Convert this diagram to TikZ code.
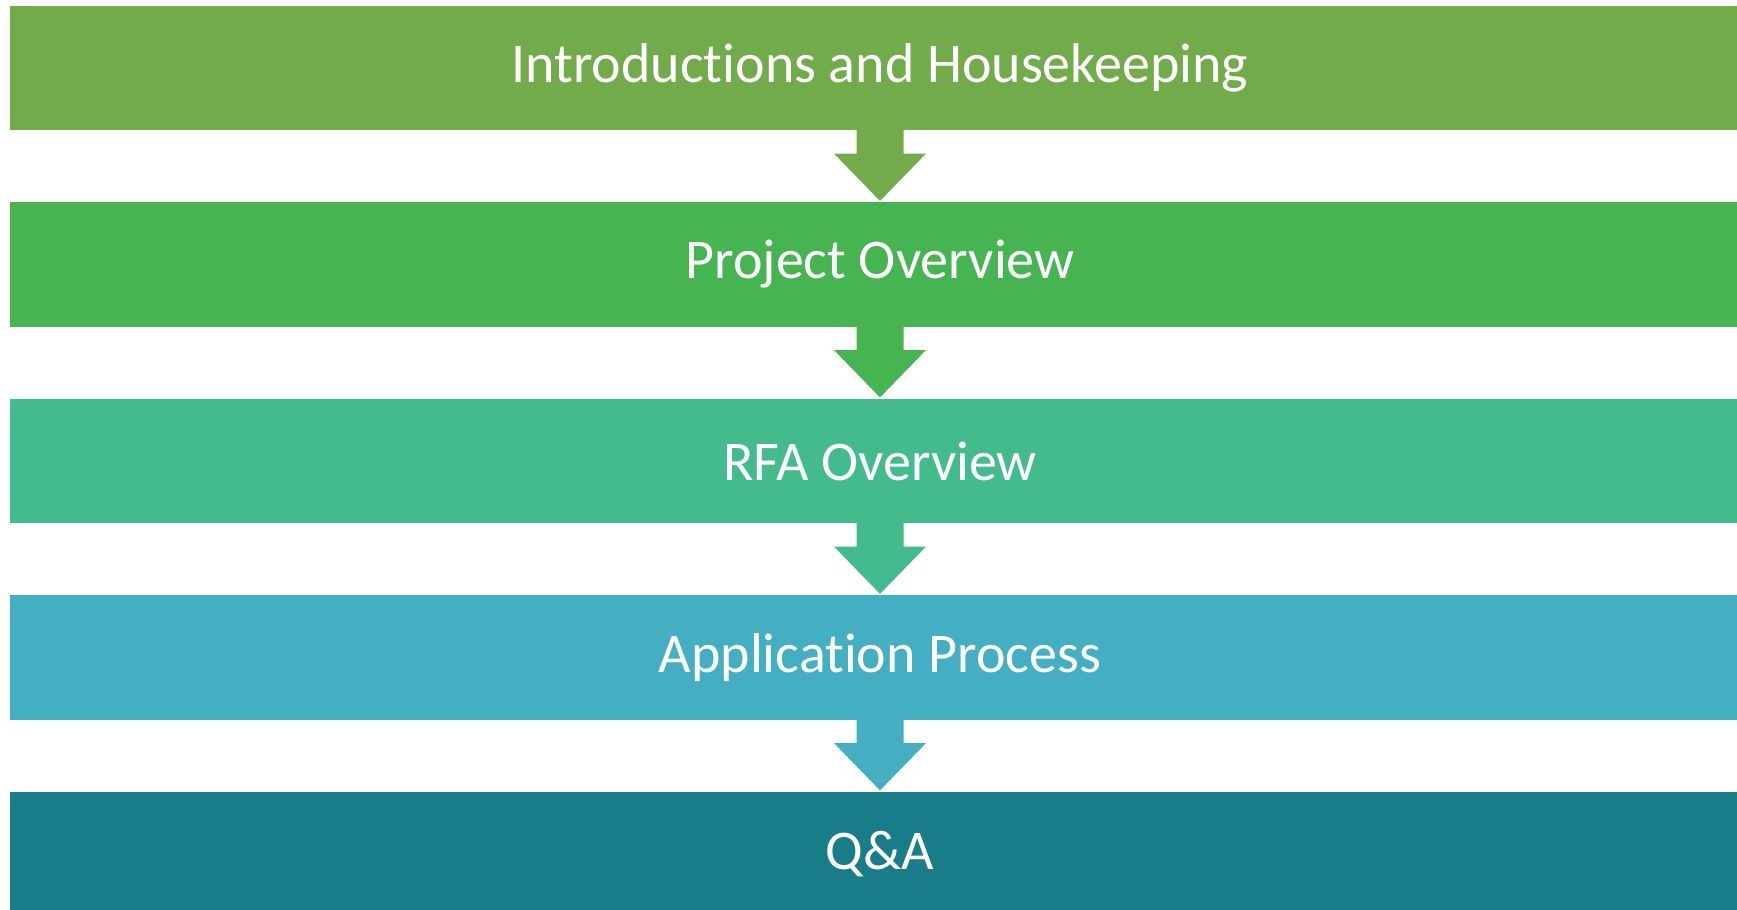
\documentclass[tikz,border=0pt]{standalone}
\usepackage{fontspec}
\setmainfont{Carlito}[Ligatures=NoCommon]
\usetikzlibrary{positioning,calc}
\definecolor{introgreen}{RGB}{114,172,74}
\definecolor{projgreen}{RGB}{71,180,82}
\definecolor{rfagreen}{RGB}{68,187,140}
\definecolor{appblue}{RGB}{68,175,194}
\definecolor{qateal}{RGB}{24,124,137}
\tikzset{
    bar/.style={minimum width=871pt, minimum height=63pt, inner sep=0pt,
        text=white, draw=white, line width=0.6pt,
        font=\fontsize{28}{34}\selectfont},
}
% arrow from bar #1 to bar #2, colour #3
\newcommand{\downarrowbar}[3]{%
    \fill[#3] ($(#1.south)+(-11.75pt,0.8pt)$) -- ($(#1.south)+(-11.75pt,-11pt)$)
        -- ($(#1.south)+(-23pt,-11pt)$) -- (#2.north)
        -- ($(#1.south)+(23pt,-11pt)$) -- ($(#1.south)+(11.75pt,-11pt)$)
        -- ($(#1.south)+(11.75pt,0.8pt)$) -- cycle;}
\begin{document}
\begin{tikzpicture}[node distance=34.65pt]
    \useasboundingbox (0,0) rectangle (868.5pt,-455pt);
        \node[bar, fill=introgreen] (intro) at (440pt,-34pt) {Introductions and Housekeeping};
        \node[bar, fill=projgreen, below=of intro] (project) {Project Overview};
        \node[bar, fill=rfagreen, below=of project] (rfa) {RFA Overview};
        \node[bar, fill=appblue, below=of rfa] (apply) {Application Process};
        \node[bar, fill=qateal, below=of apply] (qa) {Q\&A};
        %
        \downarrowbar{intro}{project}{introgreen}
        \downarrowbar{project}{rfa}{projgreen}
        \downarrowbar{rfa}{apply}{rfagreen}
        \downarrowbar{apply}{qa}{appblue}
    \end{tikzpicture}
\end{document}
